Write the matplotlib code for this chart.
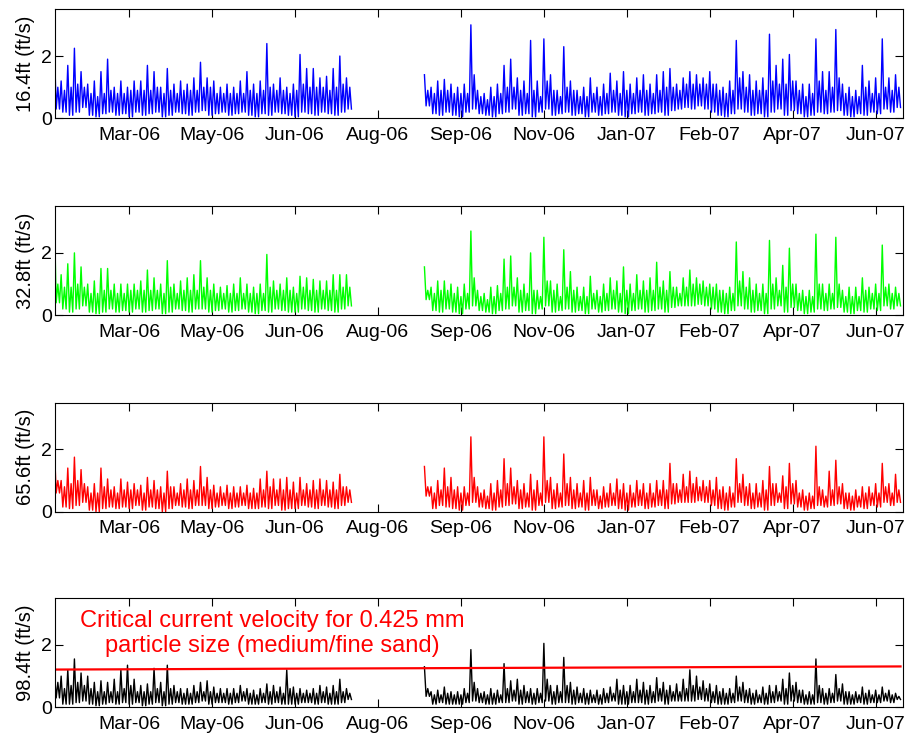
import matplotlib
matplotlib.use("Agg")
import matplotlib.pyplot as plt
import pandas as pd

plt.rcParams['font.family'] = ['Liberation Sans', 'DejaVu Sans']

# first record block, gap, second record block.
# each 4-day window: peak, low, typical top of the dense band, low (one value per day)
SEG1_START = "2006-01-27"
SEG2_START = "2006-09-07"

blue_hi_1 = [2.2, 1.2, 1.7, 2.25, 1.5, 1.1, 1.2, 1.5, 1.9, 1.0,
             1.2, 1.0, 1.2, 1.2, 1.7, 1.5, 1.0, 1.6, 1.1, 1.2,
             1.1, 1.3, 1.8, 1.3, 1.2, 1.0, 1.1, 1.0, 1.2, 1.5,
             1.1, 1.2, 2.4, 1.1, 1.3, 1.0, 1.1, 2.05, 1.6, 1.6,
             1.3, 1.35, 1.6, 2.0, 1.3]
blue_mid_1 = [1.0, 0.9, 1.0, 1.1, 1.0, 0.8, 0.7, 0.8, 0.9, 0.8,
              0.8, 0.9, 0.9, 0.9, 0.9, 1.0, 0.8, 0.9, 0.8, 0.9,
              0.9, 0.9, 1.0, 1.0, 0.8, 0.8, 0.8, 0.8, 0.8, 0.9,
              0.8, 0.9, 1.0, 0.9, 0.9, 0.8, 0.9, 1.1, 1.0, 1.0,
              1.0, 0.9, 1.0, 1.1, 1.0]
blue_lo_1 = [0.3, 0.2, 0.1, 0.2, 0.35, 0.1, 0.05, 0.15, 0.2, 0.1,
             0.15, 0.05, 0.2, 0.1, 0.15, 0.2, 0.05, 0.1, 0.2, 0.15,
             0.1, 0.2, 0.25, 0.1, 0.15, 0.2, 0.1, 0.15, 0.2, 0.1,
             0.05, 0.15, 0.1, 0.2, 0.15, 0.1, 0.05, 0.2, 0.15, 0.1,
             0.2, 0.15, 0.1, 0.2, 0.3]
blue_hi_2 = [1.4, 1.0, 1.2, 1.25, 1.1, 1.0, 1.1, 3.0, 0.9, 0.8,
             1.0, 1.1, 1.7, 1.9, 1.3, 1.2, 2.5, 1.2, 2.55, 1.4,
             0.9, 2.3, 1.2, 0.9, 1.0, 1.3, 1.0, 1.1, 1.45, 1.2,
             1.5, 1.1, 1.3, 1.4, 1.1, 1.4, 1.5, 1.6, 1.1, 1.3,
             1.5, 1.4, 1.3, 1.5, 1.1, 1.0, 1.2, 2.5, 1.5, 1.4,
             1.2, 1.3, 2.7, 1.7, 1.9, 2.05, 1.2, 1.1, 1.1, 2.55,
             1.5, 1.5, 2.85, 1.1, 1.0, 0.9, 1.7, 1.2, 1.3, 2.55,
             1.3, 1.4]
blue_mid_2 = [0.9, 0.8, 0.9, 0.9, 0.8, 0.8, 0.8, 1.4, 0.7, 0.6,
              0.7, 0.8, 1.0, 1.0, 0.9, 0.8, 0.9, 0.7, 1.2, 0.9,
              0.7, 1.0, 0.9, 0.7, 0.7, 0.8, 0.7, 0.8, 0.9, 0.8,
              0.9, 0.8, 0.9, 0.9, 0.8, 0.9, 1.0, 1.0, 0.9, 1.1,
              1.1, 1.1, 1.1, 1.1, 0.9, 0.8, 0.9, 1.3, 1.0, 0.9,
              0.9, 0.9, 1.2, 1.1, 1.1, 1.2, 0.9, 0.7, 0.8, 1.2,
              0.9, 1.0, 1.3, 0.8, 0.7, 0.7, 1.0, 0.8, 0.8, 1.0,
              0.9, 1.0]
blue_lo_2 = [0.4, 0.15, 0.1, 0.2, 0.1, 0.05, 0.2, 0.3, 0.15, 0.1,
             0.05, 0.15, 0.2, 0.3, 0.1, 0.15, 0.05, 0.2, 0.3, 0.1,
             0.15, 0.2, 0.1, 0.15, 0.05, 0.2, 0.1, 0.15, 0.2, 0.1,
             0.05, 0.15, 0.2, 0.1, 0.15, 0.2, 0.1, 0.25, 0.3, 0.35,
             0.3, 0.4, 0.3, 0.2, 0.1, 0.05, 0.15, 0.3, 0.2, 0.1,
             0.15, 0.05, 0.2, 0.3, 0.1, 0.25, 0.15, 0.05, 0.1, 0.2,
             0.15, 0.2, 0.25, 0.1, 0.05, 0.15, 0.1, 0.2, 0.15, 0.3,
             0.2, 0.35]

green_hi_1 = [3.0, 1.3, 1.65, 2.0, 1.55, 1.0, 1.1, 1.5, 1.5, 1.0,
              1.0, 1.0, 1.0, 1.1, 1.45, 1.2, 1.0, 1.75, 1.0, 1.1,
              1.2, 1.3, 1.75, 1.2, 1.0, 0.9, 0.95, 1.0, 1.2, 1.0,
              0.9, 1.0, 1.95, 1.1, 1.0, 1.2, 0.9, 1.25, 1.2, 1.15,
              1.1, 1.1, 1.3, 1.3, 1.3]
green_mid_1 = [1.0, 0.9, 0.9, 1.0, 0.9, 0.7, 0.7, 0.8, 0.8, 0.7,
               0.7, 0.8, 0.8, 0.8, 0.8, 0.8, 0.7, 0.9, 0.7, 0.8,
               0.8, 0.8, 0.9, 0.8, 0.7, 0.7, 0.7, 0.7, 0.7, 0.7,
               0.7, 0.7, 0.9, 0.8, 0.8, 0.8, 0.7, 0.9, 0.8, 0.8,
               0.8, 0.8, 0.8, 0.9, 0.9]
green_lo_1 = [0.4, 0.2, 0.1, 0.2, 0.3, 0.1, 0.05, 0.1, 0.2, 0.1,
              0.15, 0.1, 0.2, 0.1, 0.15, 0.2, 0.05, 0.1, 0.2, 0.15,
              0.1, 0.2, 0.2, 0.1, 0.15, 0.2, 0.1, 0.15, 0.2, 0.1,
              0.05, 0.15, 0.1, 0.2, 0.15, 0.1, 0.1, 0.2, 0.15, 0.1,
              0.2, 0.15, 0.1, 0.2, 0.3]
green_hi_2 = [1.55, 0.9, 1.1, 1.1, 1.0, 0.9, 1.0, 2.7, 0.8, 0.7,
              0.9, 0.95, 1.8, 1.9, 1.2, 1.0, 2.0, 0.8, 2.5, 1.1,
              1.0, 2.1, 1.4, 0.9, 0.9, 1.25, 0.8, 1.0, 1.2, 1.1,
              1.55, 1.0, 1.3, 1.1, 1.2, 1.7, 1.1, 1.4, 0.9, 1.2,
              1.45, 1.2, 1.1, 1.0, 1.0, 0.8, 0.9, 2.35, 1.4, 1.2,
              1.0, 1.0, 2.4, 1.2, 1.6, 2.15, 1.0, 0.8, 0.8, 2.6,
              1.0, 1.0, 2.5, 0.8, 0.9, 0.9, 1.2, 0.9, 1.0, 2.25,
              1.0, 0.9]
green_mid_2 = [0.8, 0.7, 0.8, 0.8, 0.7, 0.6, 0.7, 1.2, 0.6, 0.5,
               0.6, 0.7, 0.9, 0.9, 0.8, 0.7, 0.8, 0.6, 1.1, 0.8,
               0.6, 0.9, 0.8, 0.6, 0.6, 0.7, 0.6, 0.7, 0.8, 0.7,
               0.8, 0.7, 0.8, 0.8, 0.8, 0.9, 0.8, 0.9, 0.7, 0.9,
               1.0, 1.0, 0.9, 0.9, 0.8, 0.7, 0.7, 1.1, 0.9, 0.8,
               0.7, 0.7, 1.0, 0.8, 0.9, 1.0, 0.7, 0.6, 0.6, 1.0,
               0.7, 0.7, 1.0, 0.6, 0.6, 0.6, 0.8, 0.7, 0.7, 0.9,
               0.7, 0.7]
green_lo_2 = [0.5, 0.15, 0.1, 0.2, 0.1, 0.05, 0.2, 0.3, 0.15, 0.1,
              0.05, 0.15, 0.2, 0.3, 0.1, 0.15, 0.05, 0.2, 0.3, 0.1,
              0.15, 0.2, 0.1, 0.15, 0.05, 0.2, 0.1, 0.15, 0.2, 0.1,
              0.05, 0.15, 0.2, 0.1, 0.15, 0.2, 0.1, 0.25, 0.3, 0.3,
              0.3, 0.35, 0.3, 0.2, 0.1, 0.05, 0.15, 0.3, 0.2, 0.1,
              0.15, 0.05, 0.2, 0.3, 0.1, 0.25, 0.15, 0.05, 0.1, 0.2,
              0.15, 0.2, 0.25, 0.1, 0.05, 0.15, 0.1, 0.2, 0.15, 0.3,
              0.2, 0.3]

red_hi_1 = [2.0, 1.0, 1.4, 1.75, 1.35, 0.8, 0.9, 1.4, 1.05, 0.8,
            1.05, 0.95, 0.9, 0.85, 1.1, 1.0, 0.8, 1.3, 0.8, 0.9,
            1.05, 1.0, 1.45, 1.1, 0.85, 0.8, 0.85, 0.8, 0.8, 0.85,
            0.75, 1.05, 1.3, 1.05, 1.05, 1.1, 0.95, 1.1, 0.9, 1.0,
            1.05, 1.0, 0.95, 1.2, 0.8]
red_mid_1 = [1.0, 0.8, 0.9, 1.0, 0.9, 0.6, 0.6, 0.8, 0.7, 0.6,
             0.7, 0.7, 0.7, 0.6, 0.7, 0.7, 0.6, 0.8, 0.6, 0.7,
             0.7, 0.7, 0.8, 0.7, 0.6, 0.6, 0.6, 0.6, 0.6, 0.6,
             0.6, 0.7, 0.8, 0.7, 0.7, 0.7, 0.6, 0.7, 0.7, 0.7,
             0.7, 0.7, 0.7, 0.8, 0.7]
red_lo_1 = [0.6, 0.15, 0.1, 0.2, 0.3, 0.05, 0.0, 0.1, 0.15, 0.1,
            0.15, 0.1, 0.2, 0.05, 0.15, 0.1, 0.0, 0.1, 0.2, 0.15,
            0.1, 0.2, 0.2, 0.1, 0.15, 0.2, 0.1, 0.15, 0.2, 0.1,
            0.1, 0.15, 0.1, 0.2, 0.05, 0.1, 0.1, 0.2, 0.15, 0.1,
            0.2, 0.15, 0.1, 0.2, 0.3]
red_hi_2 = [1.45, 0.8, 1.0, 1.4, 1.1, 0.8, 0.8, 2.4, 0.8, 0.7,
            0.9, 1.0, 1.7, 1.4, 1.0, 0.9, 1.2, 1.0, 2.4, 1.1,
            0.9, 1.85, 1.1, 0.9, 1.0, 1.1, 0.7, 0.8, 0.9, 1.05,
            0.9, 0.85, 1.0, 0.9, 0.9, 1.0, 1.0, 1.55, 0.9, 1.2,
            1.3, 1.1, 1.0, 1.0, 1.1, 0.8, 0.8, 1.7, 1.2, 0.9,
            0.9, 1.0, 1.45, 0.9, 1.15, 1.55, 1.0, 0.7, 0.6, 2.1,
            0.7, 1.3, 1.65, 0.9, 0.6, 0.7, 0.8, 0.8, 0.9, 1.55,
            0.9, 1.2]
red_mid_2 = [0.8, 0.6, 0.7, 0.8, 0.7, 0.6, 0.6, 1.1, 0.6, 0.5,
             0.6, 0.7, 0.9, 0.8, 0.7, 0.6, 0.7, 0.6, 1.0, 0.7,
             0.6, 0.9, 0.7, 0.6, 0.6, 0.7, 0.5, 0.6, 0.6, 0.7,
             0.6, 0.6, 0.7, 0.6, 0.6, 0.7, 0.7, 0.9, 0.7, 0.8,
             0.9, 0.8, 0.8, 0.7, 0.7, 0.6, 0.6, 0.9, 0.8, 0.6,
             0.6, 0.7, 0.9, 0.6, 0.8, 0.9, 0.6, 0.5, 0.5, 0.8,
             0.5, 0.7, 0.8, 0.6, 0.5, 0.5, 0.6, 0.6, 0.6, 0.8,
             0.6, 0.7]
red_lo_2 = [0.5, 0.1, 0.2, 0.15, 0.1, 0.05, 0.2, 0.3, 0.15, 0.1,
            0.05, 0.15, 0.2, 0.25, 0.1, 0.15, 0.05, 0.2, 0.3, 0.1,
            0.15, 0.2, 0.1, 0.15, 0.05, 0.2, 0.1, 0.15, 0.2, 0.1,
            0.05, 0.15, 0.2, 0.1, 0.15, 0.2, 0.1, 0.25, 0.3, 0.3,
            0.3, 0.35, 0.3, 0.2, 0.1, 0.05, 0.15, 0.3, 0.2, 0.1,
            0.15, 0.05, 0.2, 0.3, 0.1, 0.25, 0.15, 0.05, 0.1, 0.2,
            0.15, 0.2, 0.25, 0.1, 0.05, 0.15, 0.1, 0.2, 0.15, 0.3,
            0.2, 0.3]

black_hi_1 = [1.1, 1.0, 1.2, 1.55, 1.1, 1.0, 0.8, 0.85, 0.8, 0.9,
              1.2, 1.35, 0.9, 0.7, 0.75, 1.25, 0.8, 1.35, 0.7, 0.6,
              0.6, 0.7, 0.8, 0.85, 0.65, 0.6, 0.6, 0.6, 0.7, 0.6,
              0.55, 0.6, 0.75, 0.7, 0.65, 1.2, 0.65, 0.6, 0.55, 0.6,
              0.7, 0.65, 0.7, 0.9, 0.6]
black_mid_1 = [0.8, 0.6, 0.7, 0.8, 0.7, 0.6, 0.5, 0.5, 0.5, 0.5,
               0.6, 0.7, 0.5, 0.5, 0.5, 0.6, 0.5, 0.6, 0.5, 0.45,
               0.45, 0.5, 0.5, 0.5, 0.45, 0.45, 0.45, 0.45, 0.5, 0.45,
               0.4, 0.45, 0.5, 0.5, 0.45, 0.6, 0.45, 0.45, 0.45, 0.45,
               0.5, 0.45, 0.5, 0.5, 0.45]
black_lo_1 = [0.3, 0.1, 0.1, 0.15, 0.2, 0.1, 0.05, 0.1, 0.15, 0.1,
              0.15, 0.1, 0.15, 0.05, 0.1, 0.15, 0.05, 0.1, 0.15, 0.1,
              0.1, 0.15, 0.2, 0.1, 0.15, 0.15, 0.1, 0.15, 0.2, 0.1,
              0.1, 0.15, 0.1, 0.15, 0.1, 0.1, 0.1, 0.15, 0.15, 0.1,
              0.15, 0.1, 0.1, 0.15, 0.25]
black_hi_2 = [1.3, 0.5, 0.55, 0.65, 0.5, 0.5, 0.6, 1.85, 0.6, 0.5,
              0.6, 0.55, 1.4, 0.85, 0.9, 0.7, 0.6, 0.6, 2.05, 0.7,
              0.7, 1.6, 0.8, 0.65, 0.6, 0.55, 0.55, 0.6, 0.65, 0.9,
              0.7, 0.7, 0.9, 0.8, 0.7, 0.95, 0.8, 0.7, 0.75, 0.9,
              1.2, 1.0, 0.85, 0.75, 0.7, 0.6, 0.6, 1.0, 0.8, 0.6,
              0.55, 0.65, 0.7, 0.7, 0.9, 1.1, 0.8, 0.55, 0.5, 1.55,
              0.6, 0.6, 1.05, 0.75, 0.5, 0.5, 0.65, 0.55, 0.55, 0.65,
              0.55, 0.45]
black_mid_2 = [0.6, 0.4, 0.4, 0.45, 0.4, 0.4, 0.45, 0.8, 0.45, 0.4,
               0.45, 0.4, 0.6, 0.55, 0.55, 0.5, 0.45, 0.45, 0.9, 0.5,
               0.5, 0.7, 0.55, 0.45, 0.45, 0.4, 0.4, 0.45, 0.45, 0.55,
               0.5, 0.5, 0.55, 0.55, 0.5, 0.6, 0.55, 0.5, 0.5, 0.6,
               0.7, 0.65, 0.6, 0.5, 0.5, 0.45, 0.45, 0.65, 0.55, 0.45,
               0.4, 0.45, 0.5, 0.5, 0.6, 0.7, 0.55, 0.4, 0.4, 0.7,
               0.45, 0.45, 0.6, 0.5, 0.4, 0.4, 0.45, 0.4, 0.4, 0.45,
               0.4, 0.35]
black_lo_2 = [0.35, 0.1, 0.15, 0.1, 0.1, 0.1, 0.15, 0.2, 0.15, 0.1,
              0.1, 0.15, 0.15, 0.2, 0.1, 0.15, 0.1, 0.15, 0.2, 0.1,
              0.15, 0.15, 0.1, 0.15, 0.1, 0.15, 0.1, 0.15, 0.2, 0.1,
              0.1, 0.15, 0.15, 0.1, 0.15, 0.2, 0.1, 0.2, 0.2, 0.2,
              0.2, 0.25, 0.2, 0.15, 0.1, 0.1, 0.15, 0.2, 0.15, 0.1,
              0.15, 0.1, 0.15, 0.2, 0.1, 0.2, 0.15, 0.1, 0.1, 0.15,
              0.1, 0.15, 0.2, 0.1, 0.1, 0.15, 0.1, 0.15, 0.15, 0.2,
              0.15, 0.25]

depth_labels = ["16.4ft (ft/s)", "32.8ft (ft/s)", "65.6ft (ft/s)", "98.4ft (ft/s)"]
colors = ["#0000ff", "#00ff00", "#ff0000", "#000000"]

tick_dates = pd.date_range("2006-03-13", periods=10, freq="50D")
tick_labels = ["Mar-06", "May-06", "Jun-06", "Aug-06", "Sep-06",
               "Nov-06", "Jan-07", "Feb-07", "Apr-07", "Jun-07"]

# critical velocity line (bottom panel)
crit_dates = ["2006-01-27", "2007-06-21"]
crit_vals = [1.21, 1.31]
crit_text = "Critical current velocity for 0.425 mm\nparticle size (medium/fine sand)"

series = [
    (blue_hi_1, blue_mid_1, blue_lo_1, blue_hi_2, blue_mid_2, blue_lo_2),
    (green_hi_1, green_mid_1, green_lo_1, green_hi_2, green_mid_2, green_lo_2),
    (red_hi_1, red_mid_1, red_lo_1, red_hi_2, red_mid_2, red_lo_2),
    (black_hi_1, black_mid_1, black_lo_1, black_hi_2, black_mid_2, black_lo_2),
]


def daily(start, hi, mid, lo):
    vals = []
    for h, m, l in zip(hi, mid, lo):
        vals += [h, l, m, l]
    t = pd.date_range(start, periods=len(vals), freq="D")
    return t, vals


fig = plt.figure(figsize=(9.07, 7.4), dpi=100)
bottoms = [0.840, 0.574, 0.3085, 0.0442]

for i, (hi1, mid1, lo1, hi2, mid2, lo2) in enumerate(series):
    ax = fig.add_axes([0.0601, bottoms[i], 0.9355, 0.1475])
    t1, v1 = daily(SEG1_START, hi1, mid1, lo1)
    t2, v2 = daily(SEG2_START, hi2, mid2, lo2)
    ax.plot(t1, v1, color=colors[i], lw=1.0)
    ax.plot(t2, v2, color=colors[i], lw=1.0)

    ax.set_xlim(pd.Timestamp("2006-01-27"), pd.Timestamp("2007-06-22 12:00"))
    ax.set_ylim(0, 3.5)
    ax.set_yticks([0, 2])
    ax.set_yticklabels(["0", "2"])
    ax.set_xticks(tick_dates)
    ax.set_xticklabels(tick_labels)
    ax.tick_params(direction="in", length=6, width=0.8, top=True, right=True,
                   labelsize=14)
    ax.tick_params(axis="x", pad=6)
    ax.tick_params(axis="y", pad=2)
    ax.set_ylabel(depth_labels[i], fontsize=14.5, labelpad=4)
    for s in ax.spines.values():
        s.set_linewidth(0.8)

    if i == 3:
        ax.plot(pd.to_datetime(crit_dates), crit_vals, color="red", lw=1.6)
        ax.text(pd.Timestamp("2006-06-07"), 2.36, crit_text, color="red",
                fontsize=17, ha="center", va="center", linespacing=1.15)

fig.savefig("out.png", dpi=100)
